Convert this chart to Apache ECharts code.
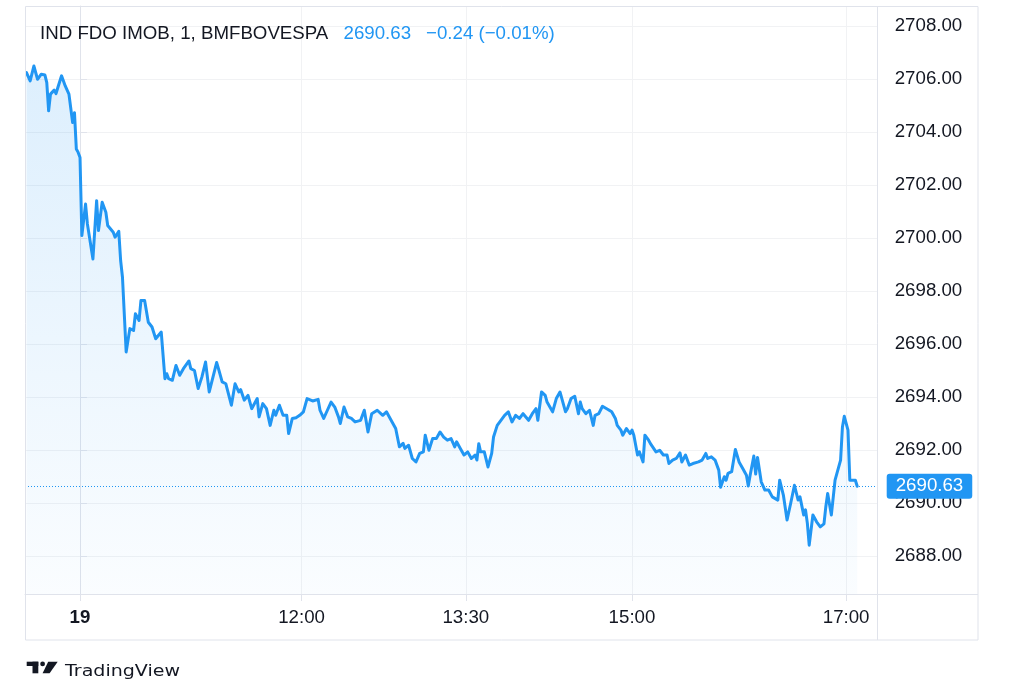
<!DOCTYPE html>
<html>
<head>
<meta charset="utf-8">
<script src="https://cdn.jsdelivr.net/npm/echarts@6/dist/echarts.min.js"></script>
<style>
html,body{margin:0;padding:0;background:#fff;}
#chart{width:1015px;height:695px;}
</style>
</head>
<body>
<div id="chart"></div>
<script>
// ---- data (1-minute bars, index 0 = first bar of session 19) ----
const barIndex = [
  -29,-27,-25,-24,-23,-21,-19,-18,-17,-16,
  -14,-13,-12,-11,-10,-8,-6,-5,-4,-3,
  -2,-1,0,1,3,4,7,9,10,12,
  14,15,18,19,21,22,23,25,27,29,
  30,32,33,35,37,39,41,44,46,47,
  48,50,52,54,56,59,60,62,64,66,
  68,70,74,75,77,79,82,84,86,87,
  89,91,93,94,96,97,99,101,103,105,
  106,108,110,112,113,115,117,119,121,123,
  126,129,130,132,134,136,138,140,141,143,
  145,147,149,150,152,154,156,158,159,161,
  164,166,168,171,173,175,176,178,180,182,
  184,186,187,189,191,193,195,197,199,201,
  203,204,206,208,210,212,214,215,216,217,
  219,221,223,224,226,228,230,232,233,234,
  236,238,240,241,243,245,247,248,250,252,
  253,256,258,260,261,263,264,266,267,268,
  270,271,272,274,276,278,279,281,283,286,
  288,290,291,293,294,296,298,299,300,302,
  303,305,306,308,309,310,312,314,316,318,
  319,321,323,325,326,328,330,332,335,337,
  339,340,342,344,346,347,349,350,351,353,
  355,357,359,361,362,363,365,366,367,369,
  371,373,375,376,378,379,381,383,385,387,
  389,390,392,393,394,395,397,399,401,403,
  404,405,407,408,409,412,413,414,416,417,
  418,420,421
];
const price = [
  2706.24,2705.93,2706.49,2706.49,2705.99,2706.18,2706.15,2705.86,2704.80,2705.43,
  2705.58,2705.45,2705.68,2705.62,2706.12,2705.74,2705.43,2705.36,2704.36,2704.73,
  2703.36,2703.23,2703.04,2700.09,2701.28,2700.53,2699.21,2701.41,2700.28,2701.35,
  2700.97,2700.47,2700.22,2700.03,2700.25,2699.15,2698.52,2695.70,2696.58,2696.51,
  2697.14,2696.89,2697.64,2697.64,2696.82,2696.64,2696.20,2696.45,2694.69,2694.88,
  2694.69,2694.63,2695.19,2694.82,2695.07,2695.36,2695.07,2695.00,2694.32,2694.75,
  2695.32,2694.19,2695.30,2695.07,2694.57,2694.50,2693.69,2694.50,2694.19,2694.28,
  2693.88,2694.06,2693.56,2693.50,2693.94,2693.25,2693.75,2693.56,2692.93,2693.50,
  2693.31,2693.69,2693.31,2693.31,2692.62,2693.19,2693.22,2693.31,2693.44,2693.94,
  2693.85,2693.91,2693.50,2693.19,2693.50,2693.81,2693.62,2693.25,2693.00,2693.62,
  2693.25,2693.19,2693.06,2693.12,2693.12,2693.50,2692.68,2693.37,2693.31,2693.50,
  2693.31,2693.44,2693.19,2692.81,2692.12,2692.25,2692.06,2692.18,2691.68,2691.55,
  2691.87,2691.93,2692.56,2691.99,2692.43,2692.43,2692.68,2692.49,2692.37,2692.43,
  2692.12,2692.31,2692.06,2691.81,2691.93,2691.68,2691.81,2691.62,2692.24,2691.93,
  2691.93,2691.36,2691.87,2692.49,2692.93,2693.12,2693.31,2693.44,2693.37,2693.06,
  2693.31,2693.19,2693.37,2693.31,2693.12,2693.37,2693.56,2693.12,2694.19,2694.06,
  2693.81,2693.44,2693.94,2694.19,2694.25,2693.44,2693.56,2693.94,2693.87,2694.03,
  2693.37,2693.81,2693.56,2693.37,2693.50,2692.93,2693.31,2693.37,2693.65,2693.53,
  2693.44,2693.19,2692.93,2692.75,2692.56,2692.81,2692.62,2692.75,2692.56,2691.81,
  2691.93,2691.55,2692.56,2692.37,2692.24,2692.31,2691.93,2691.99,2691.81,2691.81,
  2691.49,2691.62,2691.68,2691.89,2691.55,2691.81,2691.43,2691.49,2691.55,2691.62,
  2691.87,2691.68,2691.74,2691.62,2691.24,2690.59,2690.99,2690.86,2691.12,2691.18,
  2692.02,2691.55,2691.30,2691.05,2690.64,2691.05,2691.77,2691.09,2691.72,2690.80,
  2690.49,2690.49,2690.23,2690.30,2690.11,2690.86,2690.30,2689.36,2690.00,2690.67,
  2690.11,2690.23,2689.55,2689.74,2689.23,2688.41,2689.55,2689.29,2689.10,2689.21,
  2689.86,2690.36,2689.55,2689.48,2690.86,2691.62,2692.87,2693.27,2692.75,2690.86,
  2690.93,2690.86,2690.63
];
const timeTickBars = [0, 120, 209, 299, 415];
const timeTickLabels = ['19', '12:00', '13:30', '15:00', '17:00'];
const priceTicks = [2688, 2690, 2692, 2694, 2696, 2698, 2700, 2702, 2704, 2706, 2708];
const lastPrice = 2690.63;
const changeText = '\u22120.24 (\u22120.01%)';
const symbolText = 'IND FDO IMOB, 1, BMFBOVESPA';
const brandText = 'TradingView';

// ---- chart ----
const FONT = "'Liberation Sans', Arial, sans-serif";
const TXT = '#131722';
const BLUE = '#2196f3';
const BORDER = '#e0e3eb';
const GRID = '#f1f2f4';

const chart = echarts.init(document.getElementById('chart'), null, {renderer: 'canvas'});
const seriesData = barIndex.map((b, i) => [b, price[i]]);

const option = {
  animation: false,
  backgroundColor: '#ffffff',
  grid: {left: 25, right: 137.3, top: 6, bottom: 101, containLabel: false},
  xAxis: {
    type: 'value',
    min: -29.8,
    max: 432.1,
    axisLine: {show: true, lineStyle: {color: BORDER, width: 1}},
    axisTick: {show: true, customValues: timeTickBars, length: 7, lineStyle: {color: BORDER}},
    axisLabel: {
      customValues: timeTickBars,
      margin: 14,
      color: TXT,
      fontSize: 18.7,
      fontFamily: FONT,
      formatter: function (v) {
        const i = timeTickBars.indexOf(Math.round(v));
        if (i < 0) return '';
        return i === 0 ? '{b|' + timeTickLabels[i] + '}' : timeTickLabels[i];
      },
      rich: {b: {fontWeight: 'bold', fontSize: 18.7, fontFamily: FONT, color: TXT}}
    },
    splitLine: {show: true, lineStyle: {color: GRID, width: 1}}
  },
  yAxis: {
    type: 'value',
    position: 'right',
    min: 2686.566,
    max: 2708.755,
    scale: true,
    axisLine: {show: true, lineStyle: {color: BORDER, width: 1}},
    axisTick: {show: true, customValues: priceTicks, length: 7, lineStyle: {color: BORDER}},
    axisLabel: {
      customValues: priceTicks,
      margin: 17,
      color: TXT,
      fontSize: 18.7,
      fontFamily: FONT,
      formatter: v => v.toFixed(2)
    },
    splitLine: {show: true, lineStyle: {color: GRID, width: 1}}
  },
  series: [{
    type: 'line',
    data: seriesData,
    showSymbol: false,
    symbol: 'none',
    smooth: false,
    lineStyle: {color: BLUE, width: 3, join: 'round', cap: 'round'},
    itemStyle: {color: BLUE},
    areaStyle: {
      color: new echarts.graphic.LinearGradient(0, 0, 0, 1, [
        {offset: 0, color: 'rgba(33,150,243,0.22)'},
        {offset: 1, color: 'rgba(33,150,243,0.03)'}
      ])
    },
    markLine: {
      silent: true,
      symbol: ['none', 'none'],
      animation: false,
      lineStyle: {color: BLUE, type: [1, 2], width: 1},
      label: {
        show: true,
        position: 'end',
        distance: 9,
        formatter: () => lastPrice.toFixed(2),
        backgroundColor: BLUE,
        color: '#ffffff',
        fontSize: 18.7,
        fontFamily: FONT,
        padding: [3, 9, 3, 9],
        borderRadius: 3
      },
      data: [{yAxis: lastPrice}]
    }
  }],
  graphic: [
    {type: 'rect', silent: true, z: 100,
     shape: {x: 25.5, y: 6.5, width: 952.5, height: 633.5},
     style: {fill: 'none', stroke: BORDER, lineWidth: 1}},
    {type: 'line', silent: true, z: 100,
     shape: {x1: 25.5, y1: 594.5, x2: 978, y2: 594.5},
     style: {stroke: BORDER, lineWidth: 1}},
    {type: 'line', silent: true, z: 100,
     shape: {x1: 877.5, y1: 6.5, x2: 877.5, y2: 640},
     style: {stroke: BORDER, lineWidth: 1}},
    {type: 'text', silent: true, z: 100, x: 40, y: 33.5,
     style: {text: symbolText, fill: TXT, fontSize: 18.7, fontFamily: FONT, verticalAlign: 'middle'}},
    {type: 'text', silent: true, z: 100, x: 343.5, y: 33.5,
     style: {text: lastPrice.toFixed(2), fill: BLUE, fontSize: 18.7, fontFamily: FONT, verticalAlign: 'middle'}},
    {type: 'text', silent: true, z: 100, x: 426, y: 33.5,
     style: {text: changeText, fill: BLUE, fontSize: 18.7, fontFamily: FONT, verticalAlign: 'middle'}},
    // TradingView logo
    {type: 'rect', silent: true, z: 100, shape: {x: 26.7, y: 661.7, width: 11.6, height: 4.3}, style: {fill: TXT}},
    {type: 'rect', silent: true, z: 100, shape: {x: 32.5, y: 661.7, width: 5.8, height: 11.6}, style: {fill: TXT}},
    {type: 'circle', silent: true, z: 100, shape: {cx: 42.6, cy: 663.9, r: 2.4}, style: {fill: TXT}},
    {type: 'polygon', silent: true, z: 100, shape: {points: [[48.2, 661.7], [57.7, 661.7], [49.6, 673.3], [42.6, 673.3]]}, style: {fill: TXT}},
    {type: 'text', silent: true, z: 100, x: 65, y: 671.5, scaleX: 1.19, originX: 0, originY: 0,
     style: {text: brandText, fill: TXT, fontSize: 16, fontFamily: "'DejaVu Sans', sans-serif", verticalAlign: 'middle'}}
  ]
};
chart.setOption(option);
</script>
</body>
</html>
